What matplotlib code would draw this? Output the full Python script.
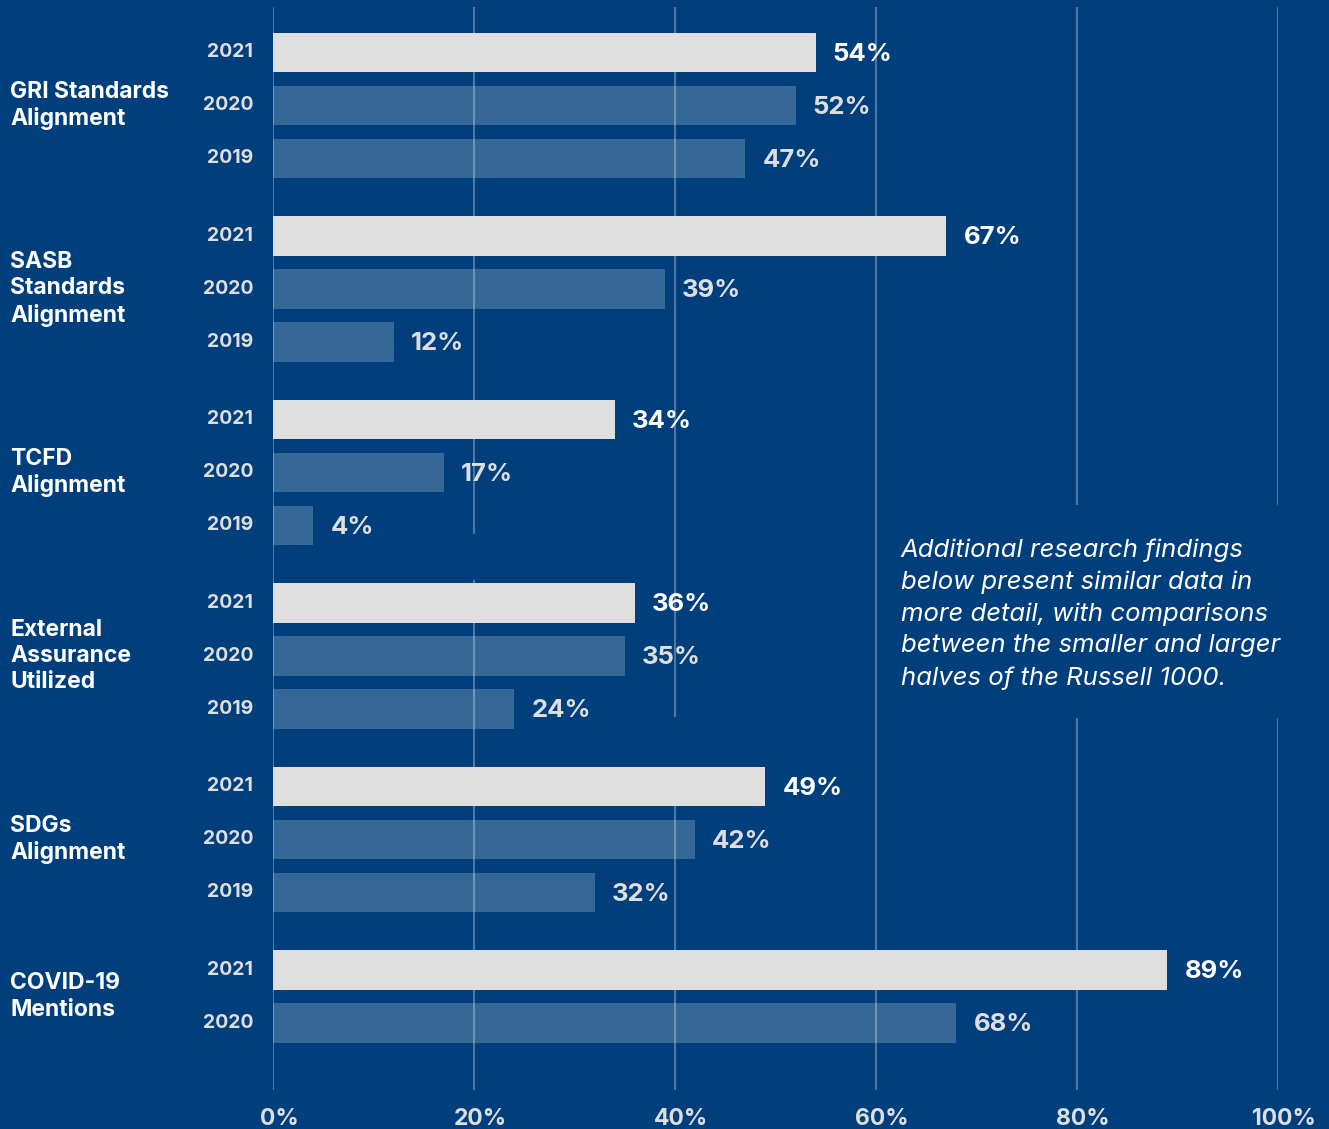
import matplotlib.pyplot as plt
from matplotlib.transforms import blended_transform_factory, ScaledTranslation

# data
categories = ["GRI Standards\nAlignment", "SASB\nStandards\nAlignment", "TCFD\nAlignment",
              "External\nAssurance\nUtilized", "SDGs\nAlignment", "COVID-19\nMentions"]
years = ["2021", "2020", "2019"]
values_2021 = [54, 67, 34, 36, 49, 89]
values_2020 = [52, 39, 17, 35, 42, 68]
values_2019 = [47, 12, 4, 24, 32, None]
ticks = [0, 20, 40, 60, 80, 100]
note = ("Additional research findings\nbelow present similar data in\n"
        "more detail, with comparisons\nbetween the smaller and larger\n"
        "halves of the Russell 1000.")

BG = "#003f7c"
LIGHT = "#dedede"
FONT = "Inter"

W, H = 1329, 1129
fig = plt.figure(figsize=(W / 100, H / 100), dpi=100, facecolor=BG)
# axes spans the gridline area
ax = fig.add_axes([273 / W, 1 - 1090 / H, (1278 - 273) / W, (1090 - 7) / H])
ax.set_facecolor(BG)

row_step = 1.0
group_step = 3.462
bar_h = 0.74

ax.set_xlim(0, 100)
ax.set_ylim(19.575, -0.858)

# gridlines (broken where the note sits)
grid_kw = dict(color="white", alpha=0.3, lw=1.5, zorder=3)
yb, yt = ax.get_ylim()
gaps = {20: (9.08, 9.95), 40: (12.54, 13.68), 80: (8.54, 12.56), 100: (8.54, 12.56)}
for t in ticks:
    if t in gaps:
        a, b = gaps[t]
        ax.vlines(t, yt, a, **grid_kw)
        ax.vlines(t, b, yb, **grid_kw)
    else:
        ax.vlines(t, yt, yb, **grid_kw)

series = [values_2021, values_2020, values_2019]
ylab = blended_transform_factory(fig.transFigure, ax.transData)
for g, cat in enumerate(categories):
    base = g * group_step
    n = 0
    for j, vals in enumerate(series):
        v = vals[g]
        if v is None:
            continue
        n += 1
        y = base + j * row_step
        if j == 0:
            ax.barh(y, v, height=bar_h, color=LIGHT, zorder=4)
            tc = "white"
        else:
            ax.barh(y, v, height=bar_h, color="white", alpha=0.21, lw=0, zorder=2)
            tc = LIGHT
        ax.text(v + 1.7, y + 0.03, f"{v}%", color=tc, fontsize=18.5, fontweight="bold",
                family=FONT, va="center", ha="left", zorder=5)
        ax.text(253 / W, y, years[j], transform=ylab, color=LIGHT, fontsize=14,
                fontweight="bold", family=FONT, va="center", ha="right")
    ax.text(10 / W, base + (n - 1) * row_step / 2, cat, transform=ylab, color="white",
            fontsize=16.5, fontweight="bold", family=FONT, va="center", ha="left",
            linespacing=1.25)

fig.text(901 / W, 1 - 538 / H, note, color="white", fontsize=18.5, style="italic",
         family=FONT, va="top", ha="left", linespacing=1.47)

ax.set_xticks(ticks)
ax.set_xticklabels([f"{t}%" for t in ticks], color=LIGHT, fontsize=16.5,
                   fontweight="bold", family=FONT)
ax.tick_params(axis="x", length=0, pad=13)
shift = ScaledTranslation(6 / 100, 0, fig.dpi_scale_trans)
for lab in ax.get_xticklabels():
    lab.set_transform(lab.get_transform() + shift)
ax.set_yticks([])
for s in ax.spines.values():
    s.set_visible(False)

fig.savefig("out.png", dpi=100, facecolor=BG)
